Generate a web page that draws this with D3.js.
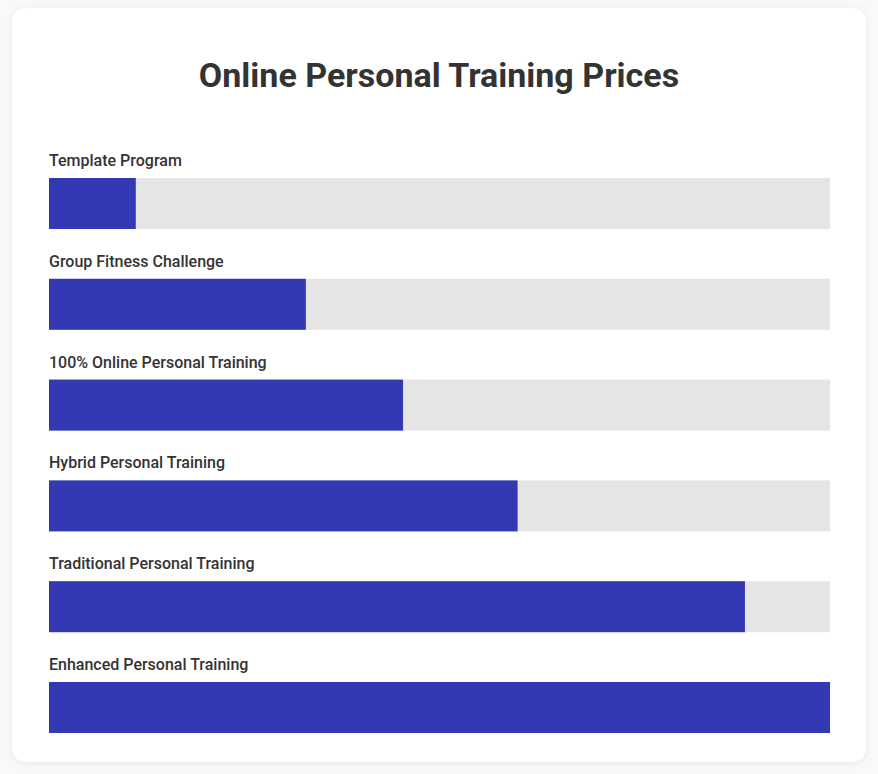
<!DOCTYPE html>
<html>
<head>
<meta charset="utf-8">
<script src="https://cdn.jsdelivr.net/npm/d3@7"></script>
<style>
  body { margin: 0; background: #f7f7f7; font-family: Roboto, sans-serif; }
  #chart { width: 878px; height: 774px; }
</style>
</head>
<body>
<div id="chart"></div>
<script>
// plan names and estimated prices (USD)
const programs = [
  "Template Program",
  "Group Fitness Challenge",
  "100% Online Personal Training",
  "Hybrid Personal Training",
  "Traditional Personal Training",
  "Enhanced Personal Training"
];
const prices = [50, 148, 204, 270, 401, 450];
const chartTitle = "Online Personal Training Prices";

const width = 878, height = 774;
const card = { x: 12, y: 8, w: 854, h: 754 };
const margin = { top: 178, left: 49, right: 48 };
const rowStep = 100.8, barH = 51;

const svg = d3.select("#chart").append("svg")
  .attr("width", width).attr("height", height);

const defs = svg.append("defs");
const shadow = defs.append("filter").attr("id", "shadow")
  .attr("x", "-5%").attr("y", "-5%").attr("width", "110%").attr("height", "110%");
shadow.append("feDropShadow").attr("dx", 0).attr("dy", 1).attr("stdDeviation", 3)
  .attr("flood-color", "#000").attr("flood-opacity", 0.08);

svg.append("rect").attr("width", width).attr("height", height).attr("fill", "#f9f9f9");
svg.append("rect")
  .attr("x", card.x).attr("y", card.y).attr("width", card.w).attr("height", card.h)
  .attr("rx", 14).attr("fill", "#fff").attr("filter", "url(#shadow)");

svg.append("text")
  .attr("x", width / 2).attr("y", 87)
  .attr("text-anchor", "middle")
  .style("font-family", "Roboto").style("font-weight", 700).style("font-size", "34px")
  .attr("fill", "#333")
  .text(chartTitle);

const x = d3.scaleLinear()
  .domain([0, d3.max(prices)])
  .range([margin.left, width - margin.right]);

const y = d3.scaleBand()
  .domain(programs)
  .range([margin.top, margin.top + rowStep * programs.length])
  .paddingInner(0).paddingOuter(0);

const rows = svg.append("g").selectAll("g.row")
  .data(programs.map((p, i) => ({ name: p, price: prices[i] })))
  .join("g").attr("class", "row")
  .attr("transform", d => `translate(0,${y(d.name)})`);

rows.append("rect").attr("class", "track")
  .attr("x", x(0)).attr("y", 0)
  .attr("width", x.range()[1] - x(0)).attr("height", barH)
  .attr("fill", "#e5e5e5");

rows.append("rect").attr("class", "bar")
  .attr("x", x(0)).attr("y", 0)
  .attr("width", d => x(d.price) - x(0)).attr("height", barH)
  .attr("fill", "#3339b3");

rows.append("text")
  .attr("x", x(0)).attr("y", -12)
  .style("font-family", "Roboto").style("font-weight", 500).style("font-size", "16px")
  .attr("fill", "#333")
  .text(d => d.name);
</script>
</body>
</html>
